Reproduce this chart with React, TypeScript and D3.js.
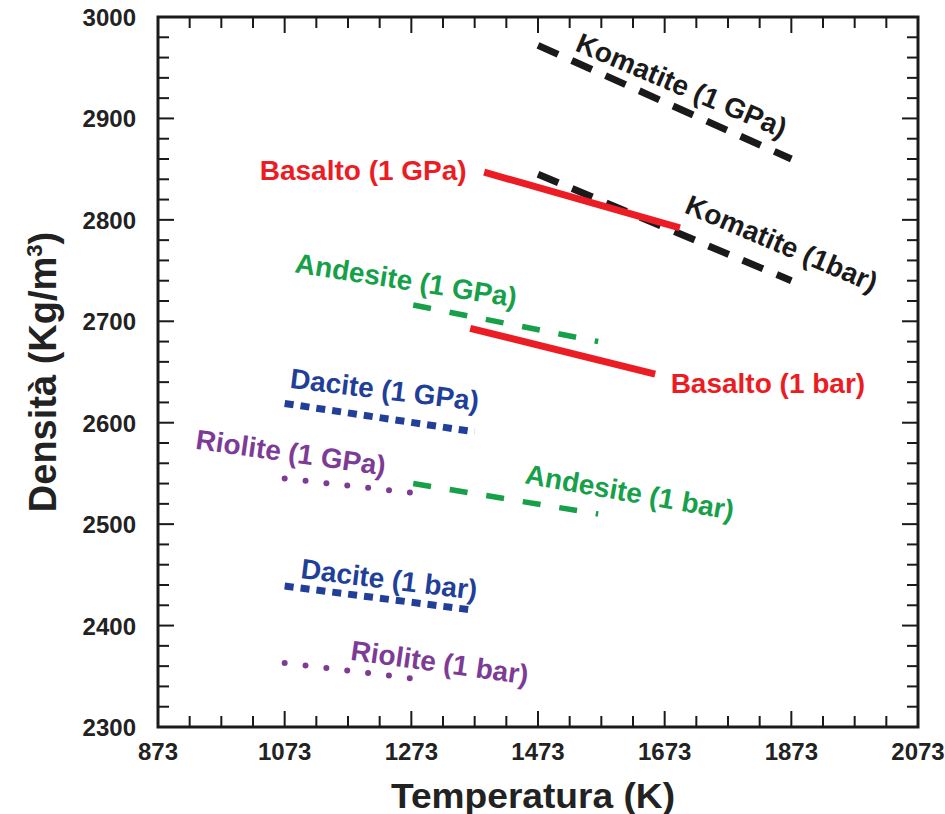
import React, { useRef, useEffect } from 'react'
import * as d3 from 'd3'

// series: each curve is a straight segment from (tStart, dStart) to (tEnd, dEnd)
const names = [
  'Komatite (1 GPa)', 'Komatite (1bar)', 'Basalto (1 GPa)', 'Basalto (1 bar)',
  'Andesite (1 GPa)', 'Andesite (1 bar)', 'Dacite (1 GPa)', 'Dacite (1 bar)',
  'Riolite (1 GPa)', 'Riolite (1 bar)',
]
const tStart = [1473, 1473, 1388, 1366, 1276, 1276, 1073, 1073, 1073, 1073]
const tEnd = [1873, 1873, 1697, 1658, 1568, 1568, 1373, 1373, 1273, 1273]
const dStart = [2972, 2845, 2847, 2693, 2716, 2540, 2619, 2439, 2545, 2363]
const dEnd = [2860, 2740, 2792, 2648, 2680, 2510, 2591, 2415, 2531, 2348]
const kinds = ['komatite', 'komatite', 'basalto', 'basalto', 'andesite', 'andesite', 'dacite', 'dacite', 'riolite', 'riolite']

// label anchors (data coords) and rotation
const labelT = [1700, 1858, 1197, 1836, 1265, 1618, 1231, 1238, 1083, 1318]
const labelD = [2933, 2777, 2849, 2639, 2741, 2532, 2633, 2446, 2571, 2364]
const labelAngle = [23, 23, 0, 0, 9, 10, 7, 7, 8, 8]

const xTicks = [873, 1073, 1273, 1473, 1673, 1873, 2073]
const yTicks = [2300, 2400, 2500, 2600, 2700, 2800, 2900, 3000]

const styles = {
  komatite: { color: '#1a1a1a', width: 7, dash: '22,15', cap: 'butt' },
  basalto: { color: '#ec1c24', width: 7, dash: null, cap: 'butt' },
  andesite: { color: '#16a04a', width: 5.5, dash: '18,19', cap: 'butt' },
  dacite: { color: '#213f99', width: 7, dash: '9,7', cap: 'butt' },
  riolite: { color: '#7c3c96', width: 6, dash: '0,21', cap: 'round' },
}

const FONT = '"Liberation Sans", Arial, Helvetica, sans-serif'

export default function App() {
  const ref = useRef(null)

  useEffect(() => {
    const svg = d3.select(ref.current)
    svg.selectAll('*').remove()

    const x = d3.scaleLinear().domain([873, 2073]).range([158, 918])
    const y = d3.scaleLinear().domain([2300, 3000]).range([727, 17])

    const g = svg.append('g')

    // ticks on all four sides, pointing inward
    const xMinor = d3.range(873, 2073 + 1, 50)
    const yMinor = d3.range(2300, 3000 + 1, 20)
    const isMajorX = (v) => (v - 873) % 200 === 0
    const isMajorY = (v) => v % 100 === 0

    xMinor.forEach((v) => {
      const len = isMajorX(v) ? 16 : 11
      g.append('line').attr('x1', x(v)).attr('x2', x(v)).attr('y1', y(2300)).attr('y2', y(2300) - len)
        .attr('stroke', '#1a1a1a').attr('stroke-width', 2)
      g.append('line').attr('x1', x(v)).attr('x2', x(v)).attr('y1', y(3000)).attr('y2', y(3000) + len)
        .attr('stroke', '#1a1a1a').attr('stroke-width', 2)
    })
    yMinor.forEach((v) => {
      const len = isMajorY(v) ? 16 : 11
      g.append('line').attr('x1', x(873)).attr('x2', x(873) + len).attr('y1', y(v)).attr('y2', y(v))
        .attr('stroke', '#1a1a1a').attr('stroke-width', 2)
      g.append('line').attr('x1', x(2073)).attr('x2', x(2073) - len).attr('y1', y(v)).attr('y2', y(v))
        .attr('stroke', '#1a1a1a').attr('stroke-width', 2)
    })

    // frame
    g.append('rect')
      .attr('x', x(873)).attr('y', y(3000))
      .attr('width', x(2073) - x(873)).attr('height', y(2300) - y(3000))
      .attr('fill', 'none').attr('stroke', '#1a1a1a').attr('stroke-width', 3)

    // tick labels
    g.selectAll('.xt').data(xTicks).join('text')
      .attr('x', (d) => x(d)).attr('y', y(2300) + 33)
      .attr('text-anchor', 'middle')
      .attr('font-family', FONT).attr('font-weight', 'bold').attr('font-size', 24)
      .attr('fill', '#222')
      .text((d) => d)

    g.selectAll('.yt').data(yTicks).join('text')
      .attr('x', x(873) - 22).attr('y', (d) => y(d) + 9)
      .attr('text-anchor', 'end')
      .attr('font-family', FONT).attr('font-weight', 'bold').attr('font-size', 24)
      .attr('fill', '#222')
      .text((d) => d)

    // axis titles
    g.append('text')
      .attr('x', 533).attr('y', 808)
      .attr('text-anchor', 'middle')
      .attr('font-family', FONT).attr('font-weight', 'bold').attr('font-size', 35)
      .attr('fill', '#222')
      .attr('textLength', 284).attr('lengthAdjust', 'spacingAndGlyphs')
      .text('Temperatura (K)')

    const yt = g.append('text')
      .attr('transform', `translate(56, ${(y(2300) + y(3000)) / 2}) rotate(-90)`)
      .attr('text-anchor', 'middle')
      .attr('font-family', FONT).attr('font-weight', 'bold').attr('font-size', 38)
      .attr('fill', '#222')
    yt.append('tspan').text('Densità (Kg/m')
    yt.append('tspan').attr('font-size', 22).attr('dy', -14).text('3')
    yt.append('tspan').attr('dy', 14).text(')')

    // series segments
    const line = d3.line().x((d) => x(d[0])).y((d) => y(d[1]))
    names.forEach((n, i) => {
      const s = styles[kinds[i]]
      const p = g.append('path')
        .attr('d', line([[tStart[i], dStart[i]], [tEnd[i], dEnd[i]]]))
        .attr('fill', 'none')
        .attr('stroke', s.color)
        .attr('stroke-width', s.width)
        .attr('stroke-linecap', s.cap)
      if (s.dash) p.attr('stroke-dasharray', s.dash)
    })

    // labels
    names.forEach((n, i) => {
      const s = styles[kinds[i]]
      g.append('text')
        .attr('transform', `translate(${x(labelT[i])}, ${y(labelD[i])}) rotate(${labelAngle[i]})`)
        .attr('dy', '0.36em')
        .attr('text-anchor', 'middle')
        .attr('font-family', FONT).attr('font-weight', 'bold').attr('font-size', 28)
        .attr('fill', s.color)
        .text(n)
    })
  }, [])

  return (
    <svg
      ref={ref}
      width={945}
      height={814}
      style={{ position: 'absolute', left: 0, top: 0, background: '#fff' }}
    />
  )
}
